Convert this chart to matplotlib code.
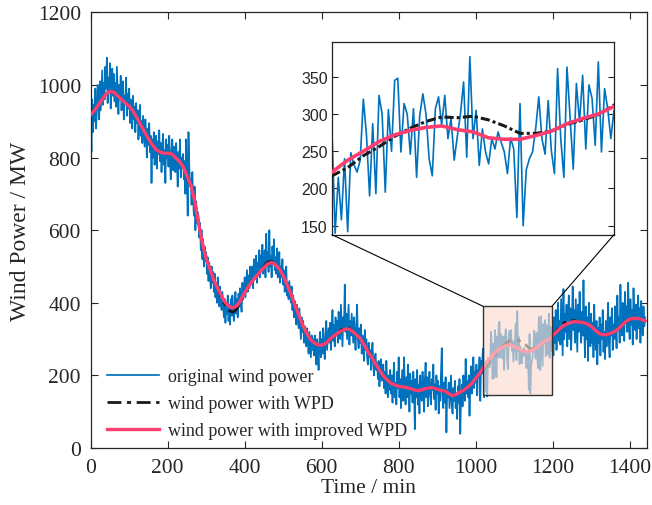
import numpy as np
import matplotlib
matplotlib.use("Agg")
import matplotlib.pyplot as plt
from matplotlib.patches import Rectangle, ConnectionPatch

# ---------------- data ----------------
# original wind power, sampled every 2 min (0..1440)
t_orig = np.arange(0, 1441, 2)
p_orig = [
    905, 815, 960, 870, 945, 900, 990, 880, 930, 1000,
    960, 905, 1010, 930, 985, 1040, 945, 1005, 960, 1050,
    990, 1075, 950, 1020, 980, 1060, 935, 1000, 1045, 970,
    1030, 955, 1005, 940, 1050, 985, 920, 1000, 960, 1025,
    930, 990, 1010, 905, 970, 950, 1020, 915, 975, 935,
    990, 895, 960, 925, 880, 970, 905, 940, 870, 950,
    895, 930, 850, 905, 945, 860, 900, 840, 915, 875,
    830, 905, 860, 800, 880, 835, 895, 815, 860, 730,
    850, 800, 870, 780, 835, 860, 770, 845, 810, 875,
    790, 840, 760, 830, 865, 780, 820, 730, 850, 800,
    835, 775, 860, 790, 740, 820, 850, 765, 830, 800,
    760, 840, 790, 720, 815, 770, 850, 745, 800, 780,
    810, 740, 790, 700, 850, 760, 640, 870, 780, 720,
    740, 670, 760, 690, 640, 720, 600, 680, 620, 650,
    640, 580, 620, 545, 600, 520, 575, 500, 555, 515,
    540, 480, 525, 460, 510, 470, 440, 500, 455, 485,
    430, 480, 415, 455, 400, 470, 420, 390, 445, 405,
    380, 430, 395, 360, 410, 345, 400, 370, 420, 350,
    395, 340, 410, 365, 420, 375, 350, 400, 430, 370,
    410, 360, 425, 390, 440, 400, 375, 455, 410, 435,
    470, 415, 450, 490, 430, 475, 440, 500, 455, 480,
    500, 440, 520, 465, 490, 530, 455, 510, 480, 545,
    470, 530, 495, 560, 480, 520, 545, 470, 590, 510,
    540, 485, 600, 500, 530, 470, 555, 510, 575, 490,
    525, 480, 550, 470, 510, 540, 455, 500, 470, 520,
    450, 490, 430, 470, 500, 420, 455, 410, 460, 430,
    400, 445, 380, 420, 360, 405, 385, 340, 395, 360,
    330, 385, 345, 300, 360, 320, 350, 290, 335, 310,
    280, 330, 300, 260, 320, 285, 250, 310, 270, 300,
    255, 310, 275, 230, 300, 265, 215, 290, 320, 250,
    300, 260, 330, 280, 245, 310, 350, 270, 300, 330,
    290, 345, 270, 320, 380, 295, 340, 280, 360, 310,
    350, 290, 375, 320, 300, 395, 340, 280, 360, 330,
    450, 320, 370, 300, 345, 395, 285, 350, 310, 370,
    330, 290, 360, 310, 270, 340, 395, 300, 275, 330,
    290, 340, 260, 310, 280, 240, 325, 270, 300, 250,
    230, 290, 250, 270, 215, 260, 290, 230, 200, 250,
    260, 215, 235, 190, 240, 170, 215, 245, 185, 205,
    230, 165, 210, 150, 240, 185, 140, 200, 160, 215,
    150, 200, 125, 190, 235, 140, 180, 120, 210, 165,
    250, 140, 190, 110, 175, 215, 130, 250, 160, 120,
    195, 140, 230, 175, 100, 205, 150, 185, 125, 210,
    165, 52, 190, 140, 215, 120, 175, 95, 200, 150,
    130, 210, 160, 100, 185, 235, 140, 195, 115, 170,
    210, 145, 120, 190, 160, 230, 135, 175, 105, 200,
    150, 185, 95, 170, 130, 210, 275, 140, 110, 180,
    125, 195, 43, 160, 140, 180, 110, 155, 200, 120,
    95, 165, 130, 185, 110, 150, 80, 170, 125, 190,
    39, 140, 175, 115, 200, 160, 130, 245, 150, 185,
    140, 200, 89, 175, 225, 150, 190, 250, 165, 210,
    180, 230, 145, 215, 195, 250, 130, 240, 205, 260,
    275, 140, 215, 158, 240, 142, 248, 232, 222, 238,
    320, 272, 190, 287, 193, 325, 300, 195, 306, 250,
    345, 348, 249, 314, 300, 246, 307, 215, 298, 327,
    300, 240, 217, 307, 323, 285, 325, 267, 294, 238,
    270, 300, 343, 242, 377, 267, 305, 231, 280, 249,
    233, 267, 253, 276, 262, 249, 220, 268, 253, 161,
    314, 150, 225, 240, 249, 280, 323, 267, 246, 318,
    251, 220, 361, 267, 215, 363, 294, 226, 341, 289,
    352, 253, 339, 321, 258, 370, 249, 334, 307, 267,
    305, 255, 360, 290, 380, 270, 345, 400, 295, 350,
    285, 410, 330, 255, 438, 300, 370, 320, 395, 280,
    360, 420, 300, 385, 270, 350, 445, 325, 380, 290,
    410, 340, 265, 395, 320, 430, 350, 290, 375, 310,
    462, 330, 250, 390, 300, 360, 240, 400, 335, 280,
    370, 290, 345, 250, 395, 310, 270, 350, 230, 330,
    290, 360, 255, 340, 300, 380, 265, 320, 245, 350,
    280, 330, 400, 290, 250, 360, 310, 385, 270, 340,
    300, 390, 340, 275, 420, 330, 360, 290, 450, 345,
    310, 400, 365, 295, 430, 350, 390, 320, 455, 360,
    300, 410, 340, 380, 285, 440, 355, 325, 395, 300,
    370, 420, 330, 385, 290, 405, 350, 310, 390, 335,
    360,
]

# smoothed curves, sampled every 10 min (0..1440)
t_smooth = np.arange(0, 1441, 10)
p_improved = [
    918, 930, 945, 960, 975, 982, 980, 970, 960, 950,
    942, 928, 910, 890, 870, 852, 835, 822, 815, 812,
    812, 810, 800, 790, 775, 750, 725, 680, 620, 565,
    522, 492, 462, 440, 418, 400, 390, 386, 392, 408,
    428, 445, 460, 473, 485, 497, 507, 511, 505, 493,
    475, 450, 425, 395, 368, 340, 318, 300, 290, 284,
    283, 288, 298, 308, 315, 322, 327, 328, 322, 312,
    302, 285, 265, 250, 232, 215, 199, 188, 178, 174,
    170, 168, 167, 164, 160, 158, 160, 164, 166, 166,
    162, 158, 157, 150, 144, 148, 154, 160, 168, 178,
    192, 205, 222, 238, 250, 263, 272, 278, 282, 284,
    279, 276, 268, 266, 266, 271, 277, 287, 294, 300,
    310, 320, 330, 338, 343, 347, 348, 347, 345, 342,
    335, 325, 316, 312, 312, 316, 320, 328, 338, 348,
    355, 357, 357, 355, 350,
]
p_wpd = [
    918, 930, 945, 960, 975, 982, 980, 970, 960, 950,
    942, 928, 910, 890, 870, 852, 835, 822, 815, 812,
    812, 810, 800, 790, 775, 750, 725, 680, 620, 565,
    522, 492, 462, 440, 412, 392, 378, 374, 384, 402,
    428, 445, 460, 473, 485, 500, 512, 514, 505, 493,
    475, 450, 425, 395, 368, 340, 318, 300, 290, 284,
    283, 288, 298, 308, 315, 326, 332, 331, 322, 312,
    302, 285, 265, 250, 232, 215, 199, 188, 178, 174,
    170, 168, 167, 164, 160, 158, 160, 164, 166, 166,
    162, 158, 157, 150, 144, 148, 154, 160, 168, 178,
    192, 205, 217, 228, 244, 256, 270, 281, 290, 296,
    295, 297, 292, 284, 274, 274, 277, 286, 292, 299,
    312, 322, 335, 345, 350, 351, 350, 347, 345, 342,
    335, 325, 316, 312, 312, 316, 320, 328, 338, 348,
    355, 357, 357, 355, 350,
]

x_ticks = [0, 200, 400, 600, 800, 1000, 1200, 1400]
y_ticks = [0, 200, 400, 600, 800, 1000, 1200]
inset_y_ticks = [150, 200, 250, 300, 350]
legend_labels = ["original wind power", "wind power with WPD",
                 "wind power with improved WPD"]

# ---------------- style ----------------
BLUE = "#0072BD"
BLACK = "#1a1a1a"
PINK = "#FF3D6E"
TXT = "#262626"
serif = ["Liberation Serif", "DejaVu Serif"]
sans = ["Liberation Sans", "DejaVu Sans"]

fig = plt.figure(figsize=(6.52, 5.06), dpi=100)
ax = fig.add_axes([0.1391, 0.1126, 0.8532, 0.8611])

l1, = ax.plot(t_orig, p_orig, color=BLUE, lw=1.25, zorder=2)
l2, = ax.plot(t_smooth, p_wpd, color=BLACK, lw=2.0, ls=(0, (5, 2, 1.5, 2)), zorder=3)
l3, = ax.plot(t_smooth, p_improved, color=PINK, lw=2.4, zorder=4)

ax.set_xlim(0, 1445)
ax.set_ylim(0, 1200)
ax.set_xticks(x_ticks)
ax.set_yticks(y_ticks)
ax.tick_params(direction="in", top=True, right=True, length=5, width=0.8,
               colors=TXT, labelsize=15.5, pad=7)
for lab in ax.get_xticklabels() + ax.get_yticklabels():
    lab.set_family(serif)
for s in ax.spines.values():
    s.set_color(TXT)
    s.set_linewidth(0.9)
ax.set_xlabel("Time / min", fontsize=15.5, family=serif, color=TXT, labelpad=1)
ax.set_ylabel("Wind Power / MW", fontsize=17, family=serif, color=TXT, labelpad=5)

# highlighted region
rect = Rectangle((1020, 145), 178, 245, facecolor="#FBDDD0", alpha=0.65,
                 edgecolor="none", zorder=5)
ax.add_patch(rect)
rect_edge = Rectangle((1020, 145), 178, 245, facecolor="none",
                      edgecolor="#333333", lw=1.0, zorder=6)
ax.add_patch(rect_edge)

leg = ax.legend([l1, l2, l3], legend_labels, loc="lower left",
                bbox_to_anchor=(0.022, 0.012), frameon=False,
                prop={"family": serif, "size": 13}, handlelength=2.9,
                handletextpad=0.5, labelspacing=0.55, borderaxespad=0,
                borderpad=0.2)
for t in leg.get_texts():
    t.set_color(TXT)

# ---------------- inset ----------------
axi = fig.add_axes([0.5092, 0.5342, 0.4325, 0.3814])
axi.plot(t_orig, p_orig, color=BLUE, lw=1.2, zorder=2)
axi.plot(t_smooth, p_wpd, color=BLACK, lw=2.2, ls=(0, (3, 1, 1, 1)), zorder=3)
axi.plot(t_smooth, p_improved, color=PINK, lw=2.6, zorder=4)
axi.set_xlim(1020, 1200)
axi.set_ylim(138, 397)
axi.set_yticks(inset_y_ticks)
axi.set_xticks([])
axi.tick_params(axis="y", direction="in", left=True, right=True, length=4,
                width=0.8, colors=TXT, labelsize=11.5, pad=3)
for lab in axi.get_yticklabels():
    lab.set_family(sans)
for s in axi.spines.values():
    s.set_color("#222222")
    s.set_linewidth(0.9)

# connectors
for xa, xb in [(0, 1020), (1, 1198)]:
    con = ConnectionPatch(xyA=(xa, 0), coordsA=axi.transAxes,
                          xyB=(xb, 390), coordsB=ax.transData,
                          color="black", lw=0.8, zorder=1)
    fig.add_artist(con)

fig.savefig("out.png", dpi=100)
